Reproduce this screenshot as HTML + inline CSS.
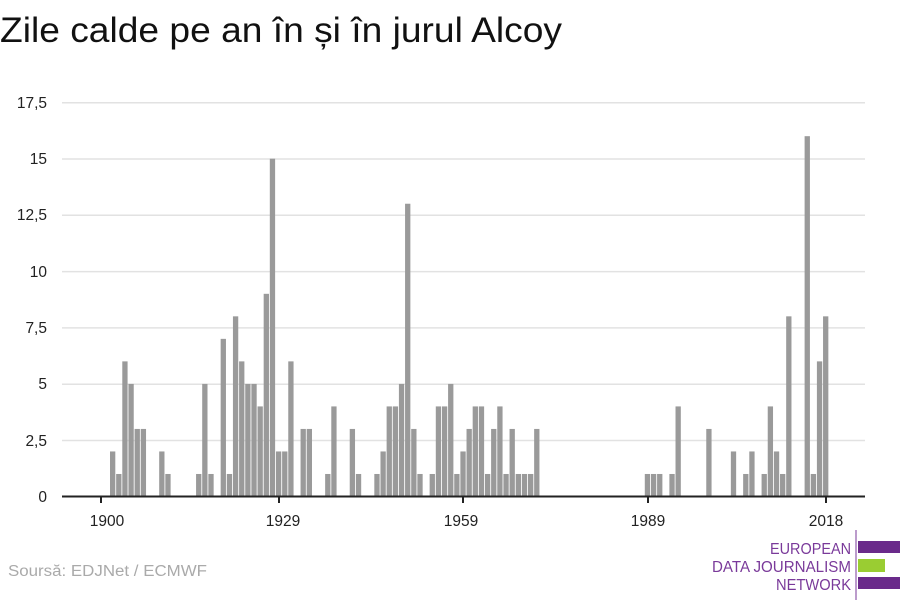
<!DOCTYPE html>
<html><head><meta charset="utf-8"><style>
html,body{margin:0;padding:0;background:#fff;width:900px;height:600px;overflow:hidden}
text{font-family:"Liberation Sans",sans-serif}
</style></head><body>
<svg width="900" height="600" viewBox="0 0 900 600" xmlns="http://www.w3.org/2000/svg">
<text x="0" y="42" font-size="35" fill="#111" textLength="562" lengthAdjust="spacingAndGlyphs">Zile calde pe an în și în jurul Alcoy</text>
<g stroke="#e2e2e2" stroke-width="1.5">
<line x1="62" x2="865" y1="102.7" y2="102.7"/>
<line x1="62" x2="865" y1="159" y2="159"/>
<line x1="62" x2="865" y1="215.3" y2="215.3"/>
<line x1="62" x2="865" y1="271.6" y2="271.6"/>
<line x1="62" x2="865" y1="327.9" y2="327.9"/>
<line x1="62" x2="865" y1="384.2" y2="384.2"/>
<line x1="62" x2="865" y1="440.5" y2="440.5"/>
</g>
<g font-size="15.5" fill="#222" text-anchor="end">
<text x="47" y="108">17,5</text>
<text x="47" y="164">15</text>
<text x="47" y="220">12,5</text>
<text x="47" y="277">10</text>
<text x="47" y="333">7,5</text>
<text x="47" y="389">5</text>
<text x="47" y="446">2,5</text>
<text x="47" y="502">0</text>
</g>
<g id="bars" fill="#9a9a9a"></g>
<line x1="62" x2="865" y1="496.5" y2="496.5" stroke="#222" stroke-width="2"/>
<g stroke="#222" stroke-width="2">
<line x1="101" x2="101" y1="496" y2="503"/>
<line x1="279" x2="279" y1="496" y2="503"/>
<line x1="463" x2="463" y1="496" y2="503"/>
<line x1="648" x2="648" y1="496" y2="503"/>
<line x1="826" x2="826" y1="496" y2="503"/>
</g>
<g font-size="15.5" fill="#222" text-anchor="middle">
<text x="107" y="526">1900</text>
<text x="283" y="526">1929</text>
<text x="461" y="526">1959</text>
<text x="648" y="526">1989</text>
<text x="826" y="526">2018</text>
</g>
<text x="8" y="576" font-size="15.5" fill="#aaa" textLength="199" lengthAdjust="spacingAndGlyphs">Soursă: EDJNet / ECMWF</text>
<line x1="856" x2="856" y1="530" y2="600" stroke="#7a3a9a" stroke-width="1"/>
<g font-size="16" fill="#7a3a9a">
<text x="770" y="554" textLength="81" lengthAdjust="spacingAndGlyphs">EUROPEAN</text>
<text x="712" y="572" textLength="139" lengthAdjust="spacingAndGlyphs">DATA JOURNALISM</text>
<text x="776" y="590" textLength="75" lengthAdjust="spacingAndGlyphs">NETWORK</text>
</g>
<rect x="858" y="541" width="42" height="12" fill="#6a2a8a"/>
<rect x="858" y="559" width="27" height="13" fill="#9acd32"/>
<rect x="858" y="577" width="42" height="12" fill="#6a2a8a"/>
</svg>
<script>
var d={0:2,1:1,2:6,3:5,4:3,5:3,8:2,9:1,14:1,15:5,16:1,18:7,19:1,20:8,21:6,22:5,23:5,24:4,25:9,26:15,27:2,28:2,29:6,31:3,32:3,35:1,36:4,39:3,40:1,43:1,44:2,45:4,46:4,47:5,48:13,49:3,50:1,52:1,53:4,54:4,55:5,56:1,57:2,58:3,59:4,60:4,61:1,62:3,63:4,64:1,65:3,66:1,67:1,68:1,69:3,87:1,88:1,89:1,91:1,92:4,97:3,101:2,103:1,104:2,106:1,107:4,108:2,109:1,110:8,113:16,114:1,115:6,116:8};
var g=document.getElementById('bars'),s='';
for(var k in d){var x=110+k*6.147,h=d[k]*22.52;s+='<rect x="'+x.toFixed(2)+'" y="'+(496.5-h).toFixed(2)+'" width="5.3" height="'+h.toFixed(2)+'"/>';}
g.innerHTML=s;
</script>
</body></html>
